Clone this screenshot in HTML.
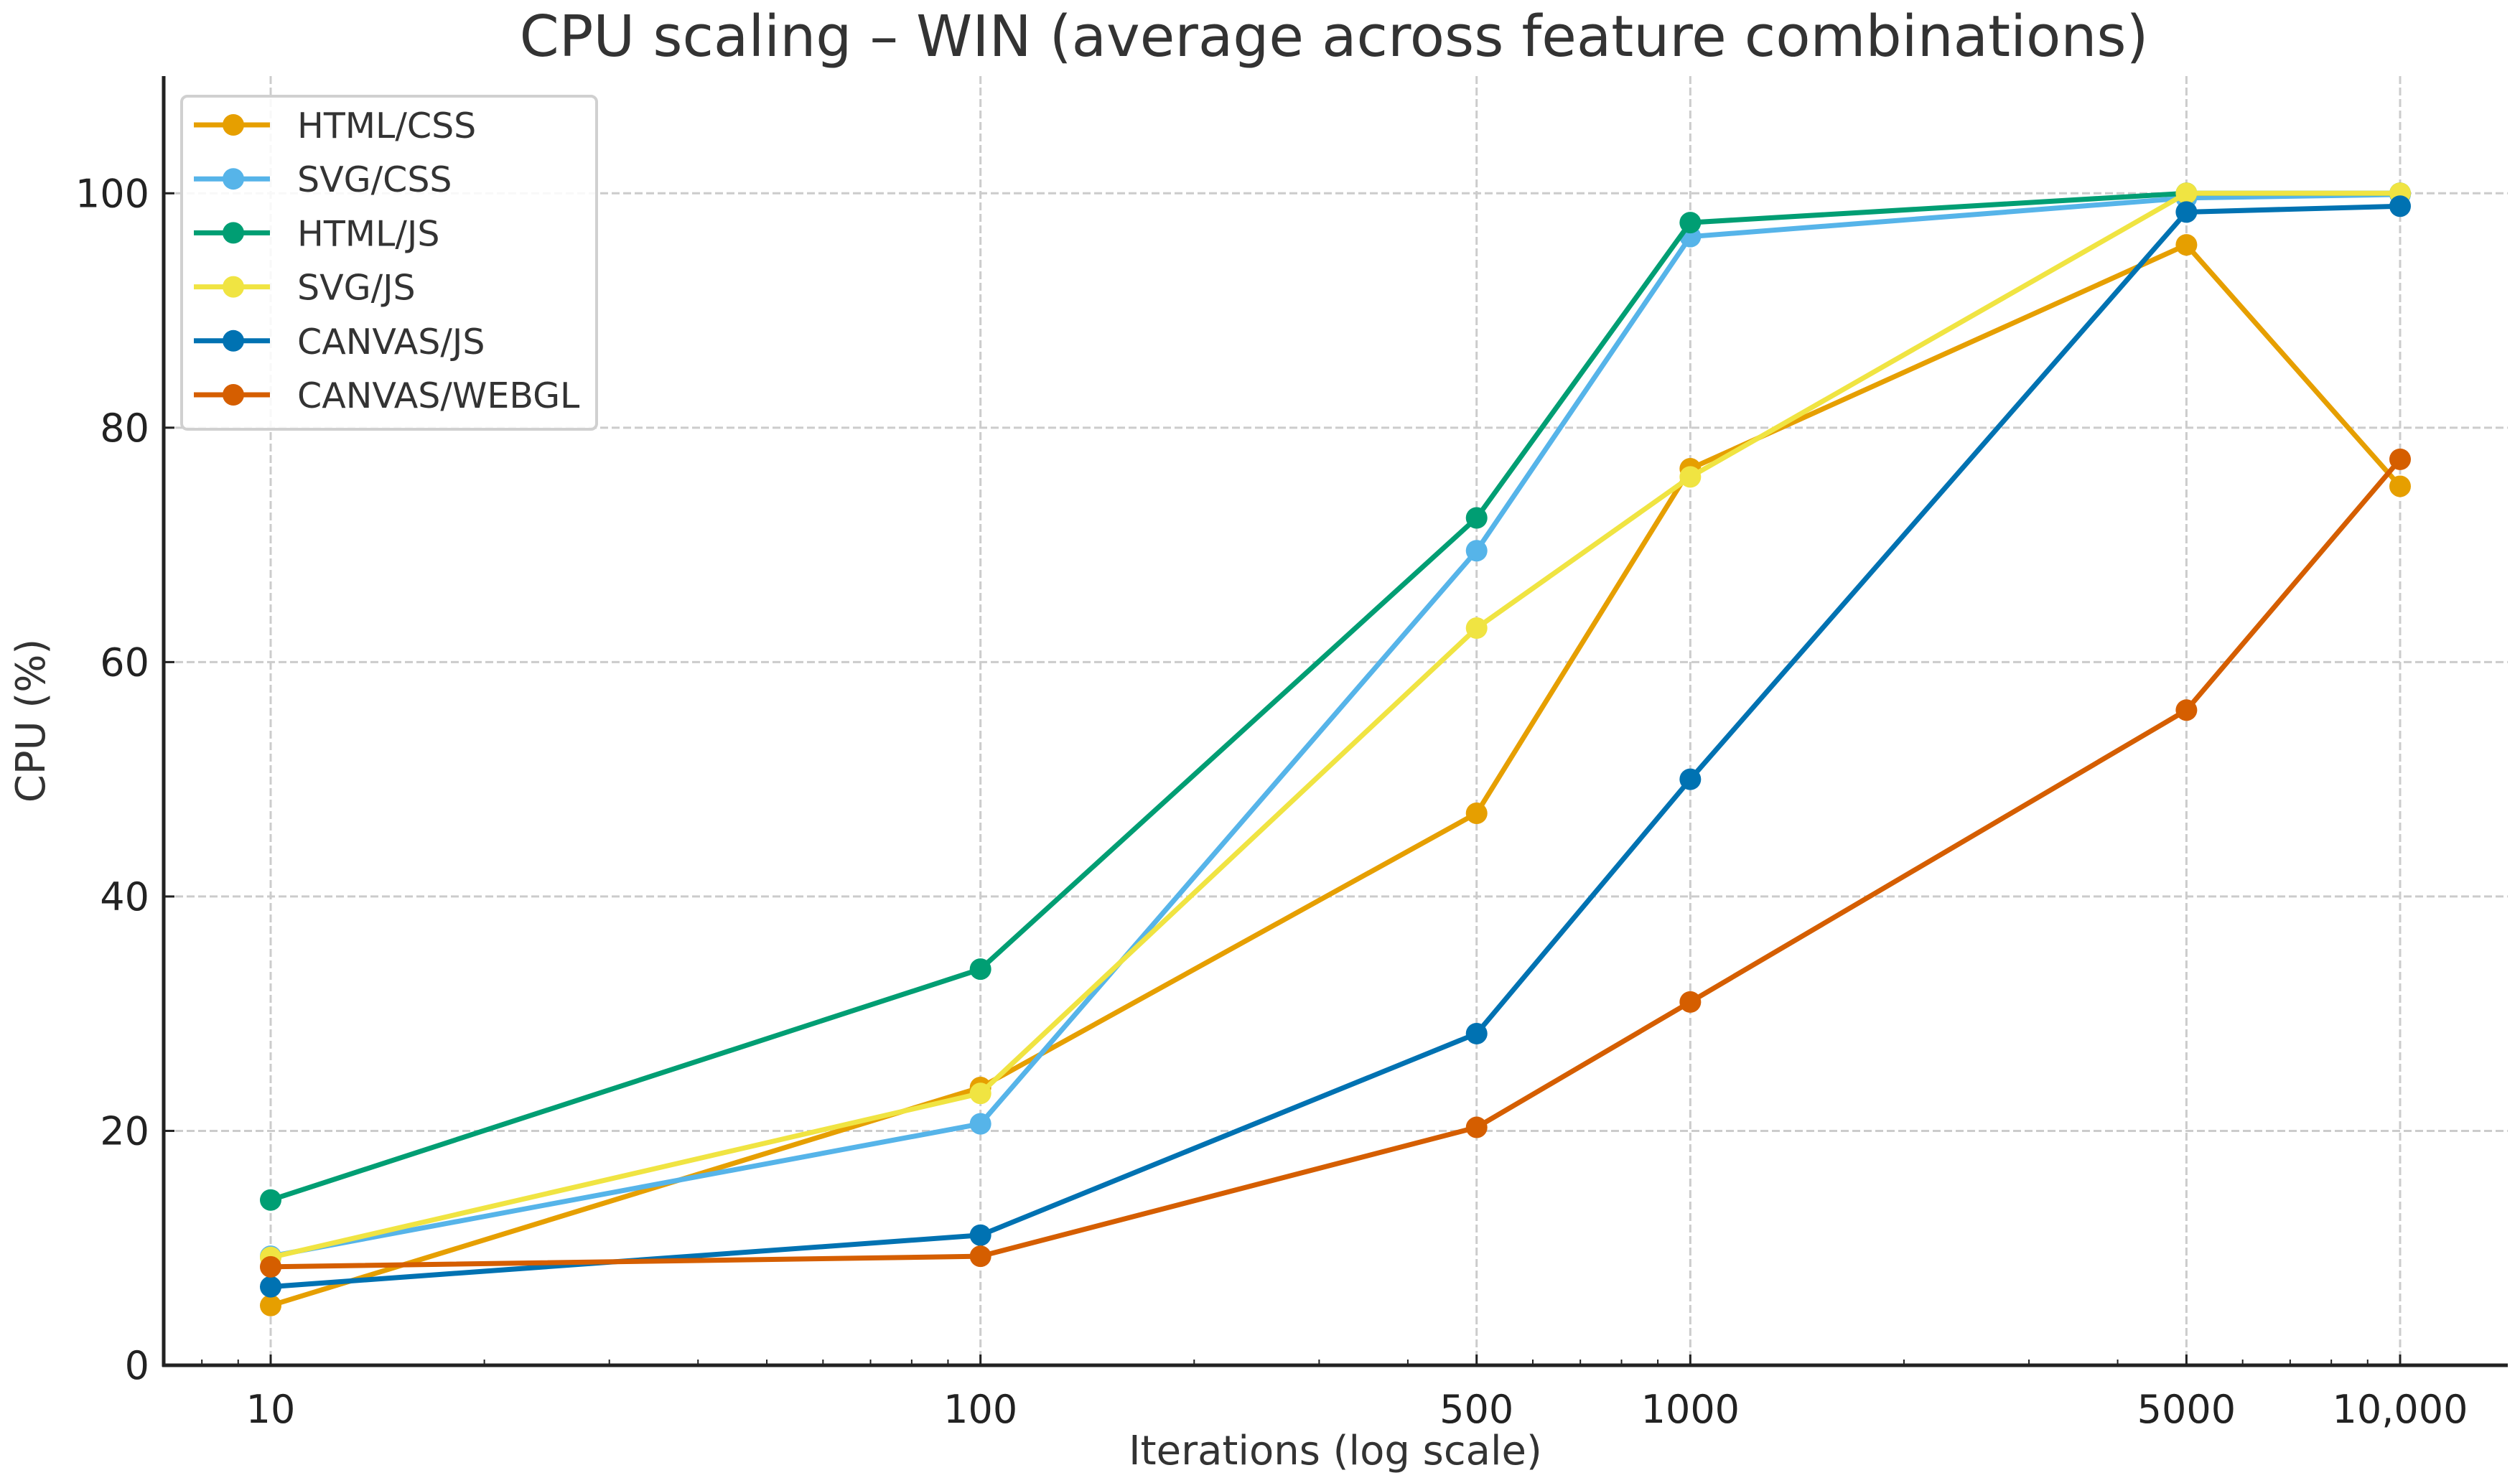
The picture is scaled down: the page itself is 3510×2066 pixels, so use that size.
<!DOCTYPE html>
<html><head><meta charset="utf-8"><style>
html,body{margin:0;padding:0;background:#fff;}
svg{display:block;font-family:"DejaVu Sans","Liberation Sans",sans-serif;}
</style></head><body>
<svg id="chart" width="3510" height="2066" viewBox="0 0 3510 2066" xmlns="http://www.w3.org/2000/svg">
<rect width="3510" height="2066" fill="#fff"/>
<text x="1858" y="78" text-anchor="middle" font-size="79" fill="#333">CPU scaling – WIN (average across feature combinations)</text>
<g id="grid"></g><g id="axes"></g><g id="series"></g><g id="legend"></g>
<text x="1860" y="2040" text-anchor="middle" font-size="56" fill="#333">Iterations (log scale)</text>
<text transform="translate(62,1004) rotate(-90)" text-anchor="middle" font-size="56" fill="#333">CPU (%)</text>
</svg>
<script>
const xValues=[10,100,500,1000,5000,10000];
const xTickValues=[10,100,500,1000,5000,10000];
const xTickLabels=["10","100","500","1000","5000","10,000"];
const yTickValues=[0,20,40,60,80,100];
const seriesNames=["HTML/CSS","SVG/CSS","HTML/JS","SVG/JS","CANVAS/JS","CANVAS/WEBGL"];
const seriesColors=["#E69F00","#56B4E9","#009E73","#F0E442","#0072B2","#D55E00"];
const htmlCss=[5.1,23.7,47.1,76.5,95.6,75.0];
const svgCss=[9.3,20.6,69.5,96.3,99.6,99.9];
const htmlJs=[14.1,33.8,72.3,97.5,100,100];
const svgJs=[9.2,23.2,62.9,75.8,100,100];
const canvasJs=[6.7,11.1,28.3,50.0,98.4,98.9];
const canvasWebgl=[8.4,9.3,20.3,31.0,55.9,77.3];
const seriesValues=[htmlCss,svgCss,htmlJs,svgJs,canvasJs,canvasWebgl];

const NS="http://www.w3.org/2000/svg";
const L=228,R=3493,T=106,B=1902,yMax=110;
const lx0=Math.log10(10)-(377-L)/988.7, lx1=Math.log10(10000)+(R-3343)/988.7;
function xs(v){return L+(Math.log10(v)-lx0)/(lx1-lx0)*(R-L);}
function ys(v){return B-v/yMax*(B-T);}
function mk(tag,attrs,parent){const e=document.createElementNS(NS,tag);for(const k in attrs)e.setAttribute(k,attrs[k]);parent.appendChild(e);return e;}
const grid=document.getElementById('grid'),axes=document.getElementById('axes'),ser=document.getElementById('series'),leg=document.getElementById('legend');
xTickValues.forEach((v,i)=>{
  const g=mk('line',{x1:xs(v),x2:xs(v),y1:T,y2:B,stroke:'#ccc','stroke-width':3,'stroke-dasharray':'11,5'},grid);
  
  
  const t=mk('line',{x1:xs(v),x2:xs(v),y1:B,y2:B-15,stroke:'#222','stroke-width':3},axes);
  
  
  const lb=mk('text',{x:xs(v),y:B+80,'text-anchor':'middle','font-size':54,fill:'#222'},axes);
  lb.textContent=xTickLabels[i];
  
  
});
const minors=[];
for(let d=1;d<=10000;d*=10)for(let m=2;m<=9;m++){const v=d*m;if(Math.log10(v)>lx0&&Math.log10(v)<lx1&&xTickValues.indexOf(v)<0)minors.push(v);}
minors.forEach(v=>{
  const t=mk('line',{x1:xs(v),x2:xs(v),y1:B,y2:B-8,stroke:'#222','stroke-width':2},axes);
  
  
});
yTickValues.forEach(v=>{
  if(v>0){const g=mk('line',{x1:L,x2:R,y1:ys(v),y2:ys(v),stroke:'#ccc','stroke-width':3,'stroke-dasharray':'11,5'},grid);
  
  }
  const t=mk('line',{x1:L,x2:L+15,y1:ys(v),y2:ys(v),stroke:'#222','stroke-width':3},axes);
  
  
  const lb=mk('text',{x:L-20,y:ys(v)+19,'text-anchor':'end','font-size':54,fill:'#222'},axes);
  lb.textContent=String(v);
  
  
});
const ya=mk('line',{x1:L,x2:L,y1:T,y2:B+2,stroke:'#222','stroke-width':5},axes);


const xa=mk('line',{x1:L-2,x2:R,y1:B,y2:B,stroke:'#222','stroke-width':5},axes);


seriesValues.forEach((vals,si)=>{
  const g=mk('g',{},ser);
  
  
  const pl=mk('polyline',{points:vals.map((v,i)=>xs(xValues[i])+','+ys(v)).join(' '),fill:'none',stroke:seriesColors[si],'stroke-width':7,'stroke-linejoin':'round'},g);
  
  
  vals.forEach((v,i)=>{
    const c=mk('circle',{cx:xs(xValues[i]),cy:ys(v),r:15,fill:seriesColors[si]},g);
    
    
  });
});
const box=mk('rect',{x:253,y:134,width:578,height:464,rx:8,fill:'#fff','fill-opacity':0.85,stroke:'#d0d0d0','stroke-width':4},leg);


seriesNames.forEach((n,i)=>{
  const y=174+i*75.2;
  const g=mk('g',{},leg);
  
  
  mk('line',{x1:270,x2:376,y1:y,y2:y,stroke:seriesColors[i],'stroke-width':7},g);
  mk('circle',{cx:325,cy:y,r:15,fill:seriesColors[i]},g);
  const t=mk('text',{x:414,y:y+18,'font-size':49,fill:'#333'},g);
  t.textContent=n;
});
</script>
</body></html>
